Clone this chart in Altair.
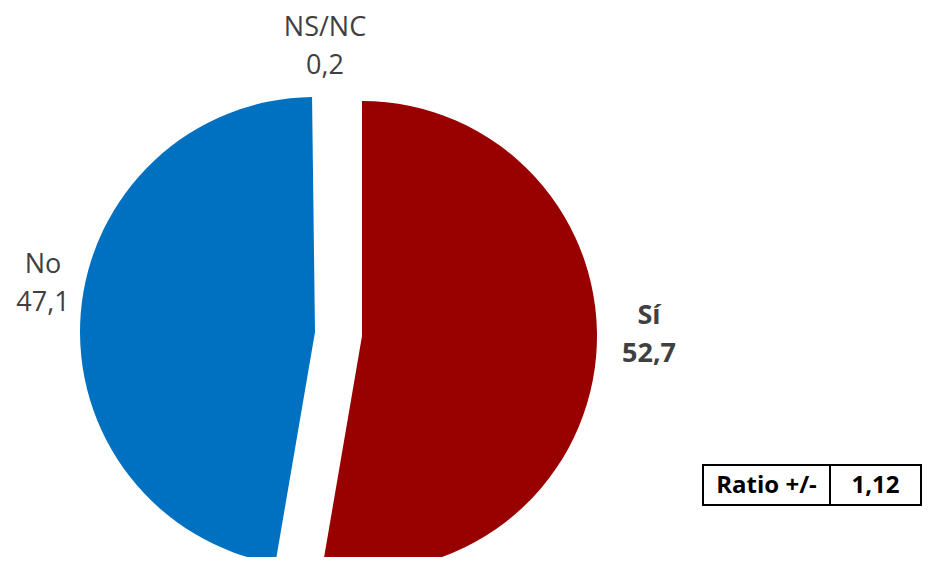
import math
import altair as alt
import pandas as pd

# ---- data ----
categories = ["Sí", "No", "NS/NC"]
values = [52.7, 47.1, 0.2]
slice_colors = ["#990000", "#0070C0", "#FFFFFF"]
ratio_text = "Ratio +/-"
ratio_value = [1.12]


def fmt(v, d=1):
    return f"{v:.{d}f}".replace(".", ",")


df = pd.DataFrame({"cat": categories, "value": values})
df["end"] = df["value"].cumsum()
df["start"] = df["end"] - df["value"]
df["label"] = [f"{c}\n{fmt(v)}" for c, v in zip(categories, values)]

tbl = pd.DataFrame({"name": [ratio_text], "val": [fmt(ratio_value[0], 2)]})

# ---- layout (chart pixel coords) ----
CX, CY, R = 330.5, 326, 235
explode = {"Sí": (23.5, 2), "No": (-23.5, -2), "NS/NC": (0, -4)}
# position of first line of each label
label_pos = {"Sí": (641, 308), "No": (35, 257), "NS/NC": (317, 20)}
FONT = "Open Sans"
TXT = "#404040"

theta_scale = alt.Scale(domain=[0, 100], range=[0, 2 * math.pi])

layers = []
for c, col in zip(categories, slice_colors):
    dx, dy = explode[c]
    layers.append(
        alt.Chart(df)
        .transform_filter(alt.datum.cat == c)
        .mark_arc(radius=R, color=col)
        .encode(
            theta=alt.Theta("start:Q", scale=theta_scale),
            theta2="end:Q",
            x=alt.value(CX + dx),
            y=alt.value(CY + dy),
        )
    )

for c in categories:
    lx, ly = label_pos[c]
    layers.append(
        alt.Chart(df)
        .transform_filter(alt.datum.cat == c)
        .mark_text(
            font=FONT,
            fontSize=27,
            fontWeight="bold" if c == "Sí" else "normal",
            color=TXT,
            lineBreak="\n",
            lineHeight=38,
            align="center",
            baseline="middle",
        )
        .encode(text="label:N", x=alt.value(lx), y=alt.value(ly))
    )

# ratio table
box_y1, box_y2 = 457, 497
cells = [(695, 822), (822, 913)]
for x1, x2 in cells:
    layers.append(
        alt.Chart(tbl)
        .mark_rect(fill="white", stroke="black", strokeWidth=2)
        .encode(x=alt.value(x1), x2=alt.value(x2), y=alt.value(box_y1), y2=alt.value(box_y2))
    )
for field, (x1, x2) in zip(["name", "val"], cells):
    layers.append(
        alt.Chart(tbl)
        .mark_text(font=FONT, fontSize=24, fontWeight="bold", color="black",
                   align="center", baseline="middle")
        .encode(text=f"{field}:N", x=alt.value((x1 + x2) / 2), y=alt.value((box_y1 + box_y2) / 2 + 1))
    )

chart = (
    alt.layer(*layers)
    .properties(width=915, height=549, autosize=alt.AutoSizeParams(type="none"),
                padding=0, background="white")
    .configure_view(strokeWidth=0, stroke="transparent")
)

chart.save("out.html", embed_options={"renderer": "svg", "actions": False})
